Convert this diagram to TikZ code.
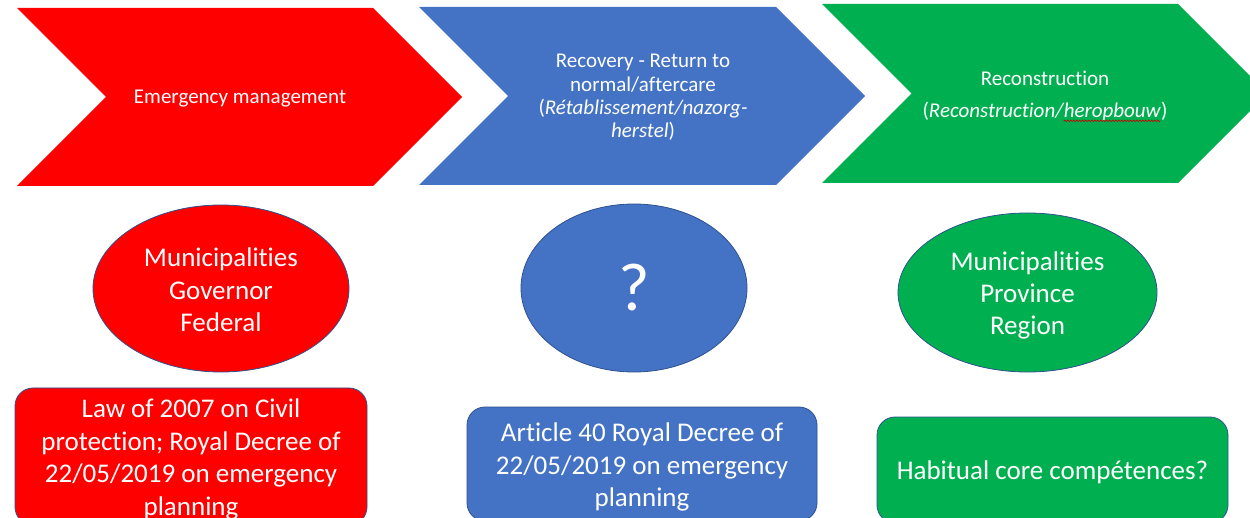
\documentclass[tikz,border=0pt]{standalone}
\usepackage{fontspec}
\setmainfont{Carlito}[RawFeature=-liga]
\usetikzlibrary{shapes.geometric,decorations.pathmorphing}

\definecolor{phred}{HTML}{FF0000}
\definecolor{phblue}{HTML}{4472C4}
\definecolor{phgreen}{HTML}{00B050}
\definecolor{edgeblue}{HTML}{2F528F}

% red squiggle under a word (spell-check style)
\newcommand\spellwave[1]{\tikz[baseline=(w.base)]{%
  \node[inner sep=0pt, outer sep=0pt] (w) {#1};
  \draw[red!80!black, line width=0.6pt, decorate,
    decoration={snake, amplitude=0.8pt, segment length=3pt}]
    ([yshift=-3.5pt]w.base west) -- ([yshift=-3.5pt]w.base east);}}

\tikzset{
  chevtext/.style={text=white, align=center, inner sep=0pt,
    font=\fontsize{21}{23.3}\selectfont},
  oval/.style={ellipse, draw=edgeblue, line width=0.8pt, inner sep=0pt},
  card/.style={rounded corners=18pt, draw=edgeblue, line width=0.8pt, inner sep=0pt},
  bodytext/.style={text=white, align=center, inner sep=0pt,
    font=\fontsize{27}{32.4}\selectfont},
}

\begin{document}
\begin{tikzpicture}[x=1pt,y=-1pt]
\clip (0,0) rectangle (1250,518);
\fill[white] (0,0) rectangle (1250,518);

% phase chevrons
\fill[phred]   (17,8) -- (373,8) -- (462,97) -- (373,186) -- (17,186) -- (106,97) -- cycle;
\fill[phblue]  (419,7) -- (776,7) -- (865,96) -- (776,185) -- (419,185) -- (508,96) -- cycle;
\fill[phgreen] (822,4) -- (1178,4) -- (1267.5,93.5) -- (1178,183) -- (822,183) -- (911.5,93.5) -- cycle;

\node[chevtext] (p1) at (240,99) {Emergency management};
\node[chevtext] (p2) at (643,97.5) {Recovery - Return to\\normal/aftercare\\(\textit{Rétablissement/nazorg-}\\\textit{herstel})};
\node[chevtext] (p3) at (1045,96.5) {Reconstruction\\[8.5pt](\textit{Reconstruction/\spellwave{heropbouw}})};

% actors
\node[oval, fill=phred, minimum width=256, minimum height=167] (a1) at (221,288.5) {};
\node[oval, fill=phblue, minimum width=226, minimum height=168] (a2) at (634,288) {};
\node[oval, fill=phgreen, minimum width=259, minimum height=159] (a3) at (1027.5,292.5) {};

\node[bodytext] (t1) at ([yshift=-1.5pt]a1.center) {Municipalities\\Governor\\Federal};
\node[bodytext, font=\fontsize{68}{70}\selectfont] (t2) at ([yshift=0pt]a2.center) {?};
\node[bodytext] (t3) at ([yshift=-3pt]a3.center) {Municipalities\\Province\\Region};

% legal basis
\node[card, fill=phred, minimum width=352, minimum height=137] (b1) at (191,456.5) {};
\node[card, fill=phblue, minimum width=350, minimum height=114] (b2) at (642,464) {};
\node[card, fill=phgreen, minimum width=351, minimum height=106] (b3) at (1052.5,470) {};

\node[bodytext] (l1) at ([yshift=-3pt]b1.center)
  {Law of 2007 on Civil\\protection; Royal Decree of\\22/05/2019 on emergency\\planning};
\node[bodytext] (l2) at ([yshift=-3pt]b2.center)
  {Article 40 Royal Decree of\\22/05/2019 on emergency\\planning};
\node[bodytext] (l3) at ([yshift=-2pt]b3.center) {Habitual core compétences?};
\end{tikzpicture}
\end{document}
